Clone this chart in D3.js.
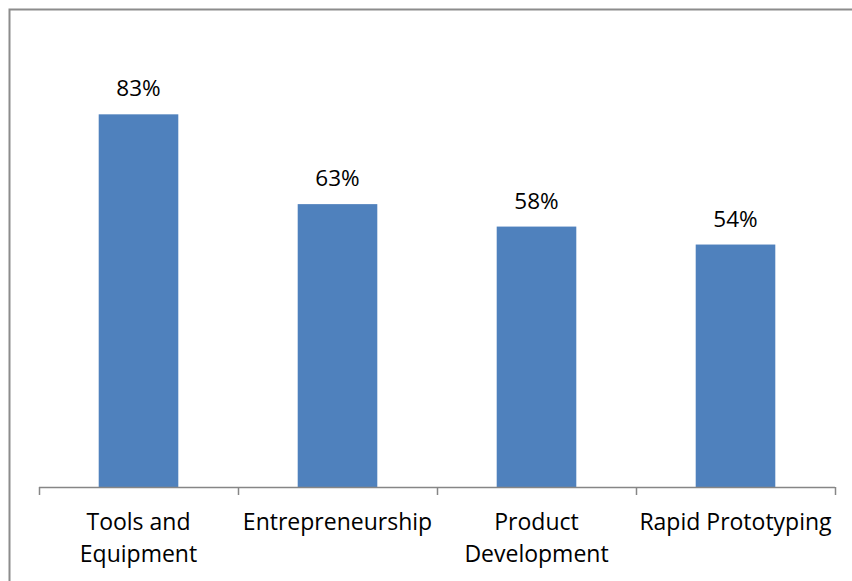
<!DOCTYPE html>
<html>
<head>
<meta charset="utf-8">
<script src="https://cdn.jsdelivr.net/npm/d3@7"></script>
<style>
  html, body { margin: 0; padding: 0; background: #fff; }
  svg { display: block; }
  text { font-family: "Open Sans", "Noto Sans", sans-serif; fill: #000; }
</style>
</head>
<body>
<svg id="chart" width="852" height="581"></svg>
<script>
const categories = ["Tools and Equipment", "Entrepreneurship", "Product Development", "Rapid Prototyping"];
const values = [0.83, 0.63, 0.58, 0.54];

const W = 852, H = 581;
const svg = d3.select("#chart");

// Chart frame
svg.append("rect")
  .attr("x", 9.5).attr("y", 9.5)
  .attr("width", W + 10).attr("height", H + 10)
  .attr("fill", "none").attr("stroke", "#8c8c8c").attr("stroke-width", 2);

const x = d3.scaleBand()
  .domain(categories)
  .range([39, 835])
  .paddingInner(0.6)
  .paddingOuter(0.3);

const y = d3.scaleLinear().domain([0, 1]).range([487, 38]);

// Bars
svg.selectAll("rect.bar")
  .data(values)
  .join("rect")
  .attr("class", "bar")
  .attr("x", (d, i) => x(categories[i]))
  .attr("y", d => y(d))
  .attr("width", x.bandwidth())
  .attr("height", d => y(0) - y(d))
  .attr("fill", "#4f81bd");

// Value labels
svg.selectAll("text.val")
  .data(values)
  .join("text")
  .attr("class", "val")
  .attr("x", (d, i) => x(categories[i]) + x.bandwidth() / 2)
  .attr("y", d => y(d) - 18)
  .attr("text-anchor", "middle")
  .attr("font-size", 22.5)
  .text(d => d3.format(".0%")(d));

// Category axis: baseline with ticks at band boundaries
const axisG = svg.append("g");
const step = x.step();
const edges = d3.range(categories.length + 1).map(i => 39 + i * step);
axisG.append("line")
  .attr("x1", 39).attr("x2", 835)
  .attr("y1", 487.5).attr("y2", 487.5)
  .attr("stroke", "#868686").attr("stroke-width", 1.5);
axisG.selectAll("line.tick")
  .data(edges)
  .join("line")
  .attr("class", "tick")
  .attr("x1", d => Math.round(d) + 0.5).attr("x2", d => Math.round(d) + 0.5)
  .attr("y1", 487).attr("y2", 495)
  .attr("stroke", "#868686").attr("stroke-width", 1.5);

// Category labels, wrapped to the band step
const labels = axisG.selectAll("text.cat")
  .data(categories)
  .join("text")
  .attr("class", "cat")
  .attr("text-anchor", "middle")
  .attr("font-size", 23)
  .attr("y", 530);

labels.each(function (c) {
  const t = d3.select(this);
  const cx = x(c) + x.bandwidth() / 2;
  const words = c.split(" ");
  let lines = [], line = [];
  const probe = t.append("tspan").attr("x", cx);
  words.forEach(w => {
    line.push(w);
    probe.text(line.join(" "));
    if (probe.node().getComputedTextLength() > step - 4 && line.length > 1) {
      line.pop();
      lines.push(line.join(" "));
      line = [w];
    }
  });
  lines.push(line.join(" "));
  probe.remove();
  lines.forEach((l, i) => {
    t.append("tspan").attr("x", cx).attr("dy", i === 0 ? 0 : 32).text(l);
  });
});
</script>
</body>
</html>
